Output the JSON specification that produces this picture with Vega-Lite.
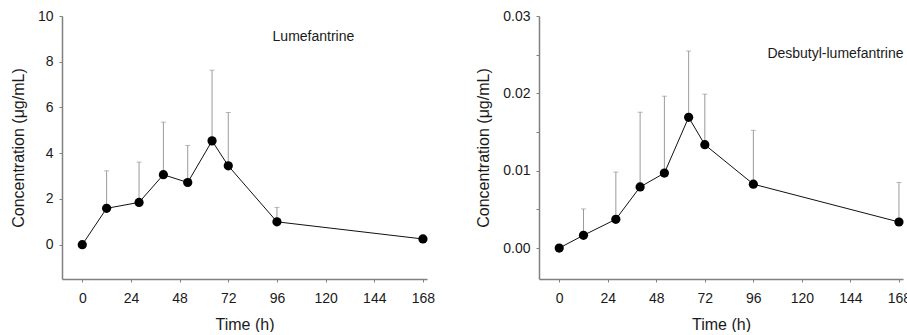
{
  "$schema": "https://vega.github.io/schema/vega-lite/v6.json",
  "padding": {"left": 10, "top": 9, "right": 0, "bottom": 0},
  "background": "white",
  "config": {
    "font": "Liberation Sans",
    "view": {"stroke": null},
    "axis": {
      "domainColor": "#808080",
      "domainWidth": 1.5,
      "tickColor": "#808080",
      "tickSize": 3,
      "tickWidth": 1,
      "grid": false,
      "labelFont": "Liberation Sans",
      "labelFontSize": 14,
      "labelColor": "#1a1a1a",
      "titleFont": "Liberation Sans",
      "titleFontSize": 16,
      "titleFontWeight": "normal",
      "titleColor": "#1a1a1a"
    },
    "axisX": {"labelPadding": 9, "titlePadding": 11},
    "axisY": {"labelPadding": 6, "titlePadding": 11}
  },
  "datasets": {
    "lum": [
      {"time": 0, "conc": 0, "upper": null},
      {"time": 12, "conc": 1.59, "upper": 3.23},
      {"time": 28, "conc": 1.85, "upper": 3.61},
      {"time": 40, "conc": 3.06, "upper": 5.36},
      {"time": 52, "conc": 2.72, "upper": 4.34},
      {"time": 64, "conc": 4.54, "upper": 7.63},
      {"time": 72, "conc": 3.45, "upper": 5.78},
      {"time": 96, "conc": 1.0, "upper": 1.63},
      {"time": 168, "conc": 0.25, "upper": null}
    ],
    "des": [
      {"time": 0, "conc": 0, "upper": null},
      {"time": 12, "conc": 0.00165, "upper": 0.00506},
      {"time": 28, "conc": 0.00372, "upper": 0.00982},
      {"time": 40, "conc": 0.0079, "upper": 0.01756},
      {"time": 52, "conc": 0.00969, "upper": 0.01963},
      {"time": 64, "conc": 0.0169, "upper": 0.02547},
      {"time": 72, "conc": 0.01336, "upper": 0.0199},
      {"time": 96, "conc": 0.00826, "upper": 0.01522},
      {"time": 168, "conc": 0.00337, "upper": 0.00848}
    ],
    "lumLabel": [{"label": "Lumefantrine", "time": 114, "conc": 9.07}],
    "desLabel": [{"label": "Desbutyl-lumefantrine", "time": 136.6, "conc": 0.0251}]
  },
  "spacing": 40,
  "hconcat": [
    {
      "width": 365,
      "height": 263,
      "data": {"name": "lum"},
      "encoding": {
        "x": {
          "field": "time", "type": "quantitative",
          "scale": {"domain": [-10, 170], "nice": false, "zero": false},
          "axis": {"values": [0, 24, 48, 72, 96, 120, 144, 168], "title": "Time (h)"}
        }
      },
      "layer": [
        {
          "transform": [{"filter": "datum.upper != null"}],
          "mark": {"type": "rule", "color": "#9a9a9a", "strokeWidth": 1},
          "encoding": {
            "y": {"field": "conc", "type": "quantitative"},
            "y2": {"field": "upper"}
          }
        },
        {
          "transform": [{"filter": "datum.upper != null"}],
          "mark": {"type": "tick", "orient": "horizontal", "color": "#9a9a9a", "size": 5, "thickness": 1},
          "encoding": {
            "y": {"field": "upper", "type": "quantitative"}
          }
        },
        {
          "mark": {"type": "line", "color": "#111111", "strokeWidth": 1},
          "encoding": {
            "y": {
              "field": "conc", "type": "quantitative",
              "scale": {"domain": [-1.5, 10], "nice": false, "zero": false},
              "axis": {"values": [0, 2, 4, 6, 8, 10], "title": "Concentration (μg/mL)"}
            }
          }
        },
        {
          "mark": {"type": "circle", "color": "black", "opacity": 1, "size": 85},
          "encoding": {
            "y": {"field": "conc", "type": "quantitative"}
          }
        },
        {
          "data": {"name": "lumLabel"},
          "mark": {"type": "text", "font": "Liberation Sans", "fontSize": 14, "color": "#1a1a1a", "align": "center", "baseline": "middle"},
          "encoding": {
            "y": {"field": "conc", "type": "quantitative"},
            "text": {"field": "label"}
          }
        }
      ]
    },
    {
      "width": 364,
      "height": 263,
      "data": {"name": "des"},
      "encoding": {
        "x": {
          "field": "time", "type": "quantitative",
          "scale": {"domain": [-10, 170], "nice": false, "zero": false},
          "axis": {"values": [0, 24, 48, 72, 96, 120, 144, 168], "title": "Time (h)"}
        }
      },
      "layer": [
        {
          "transform": [{"filter": "datum.upper != null"}],
          "mark": {"type": "rule", "color": "#9a9a9a", "strokeWidth": 1},
          "encoding": {
            "y": {"field": "conc", "type": "quantitative"},
            "y2": {"field": "upper"}
          }
        },
        {
          "transform": [{"filter": "datum.upper != null"}],
          "mark": {"type": "tick", "orient": "horizontal", "color": "#9a9a9a", "size": 5, "thickness": 1},
          "encoding": {
            "y": {"field": "upper", "type": "quantitative"}
          }
        },
        {
          "mark": {"type": "line", "color": "#111111", "strokeWidth": 1},
          "encoding": {
            "y": {
              "field": "conc", "type": "quantitative",
              "scale": {"domain": [-0.004, 0.03], "nice": false, "zero": false},
              "axis": {
                "values": [0, 0.005, 0.01, 0.015, 0.02, 0.025, 0.03],
                "labelExpr": "round(datum.value * 200) % 2 == 1 ? '' : format(datum.value, '.2f')",
                "title": "Concentration (μg/mL)"
              }
            }
          }
        },
        {
          "mark": {"type": "circle", "color": "black", "opacity": 1, "size": 85},
          "encoding": {
            "y": {"field": "conc", "type": "quantitative"}
          }
        },
        {
          "data": {"name": "desLabel"},
          "mark": {"type": "text", "font": "Liberation Sans", "fontSize": 14, "color": "#1a1a1a", "align": "center", "baseline": "middle"},
          "encoding": {
            "y": {"field": "conc", "type": "quantitative"},
            "text": {"field": "label"}
          }
        }
      ]
    }
  ]
}
